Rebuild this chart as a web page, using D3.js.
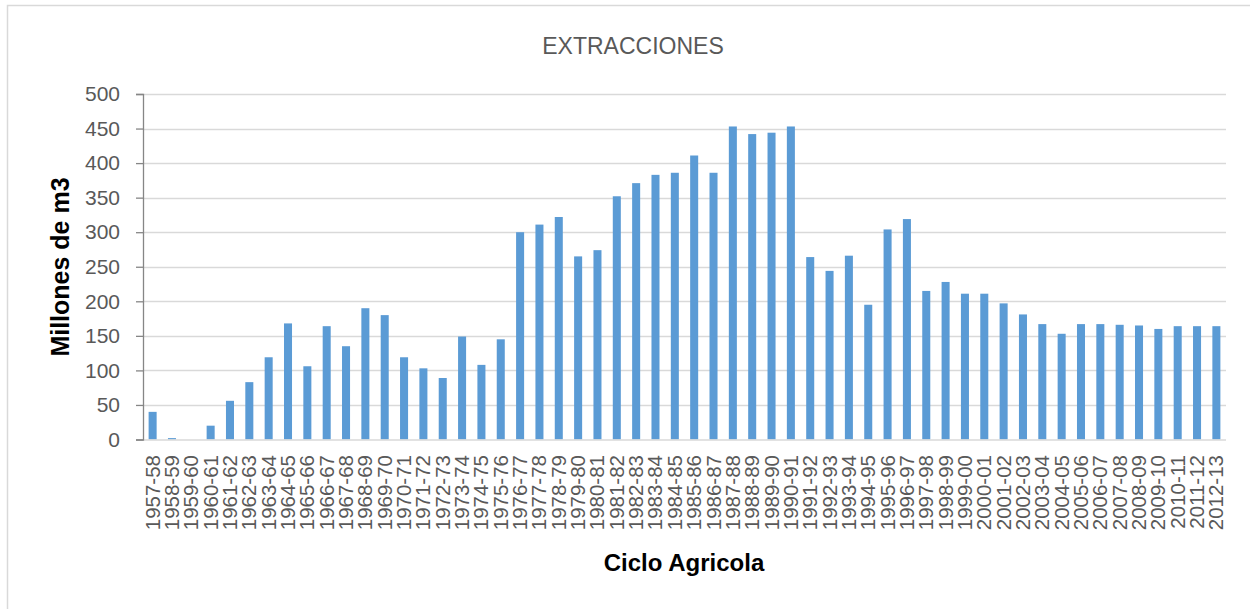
<!DOCTYPE html>
<html>
<head>
<meta charset="utf-8">
<script src="https://cdn.jsdelivr.net/npm/d3@7"></script>
<style>
  html, body { margin: 0; padding: 0; background: #fff; }
  svg { display: block; font-family: 'Liberation Sans', Arial, sans-serif; }
</style>
</head>
<body>
<div id="chart"></div>
<script>
// Extracciones por ciclo agricola (millones de m3)
const ciclos = [
  '1957-58','1958-59','1959-60','1960-61','1961-62','1962-63','1963-64','1964-65',
  '1965-66','1966-67','1967-68','1968-69','1969-70','1970-71','1971-72','1972-73',
  '1973-74','1974-75','1975-76','1976-77','1977-78','1978-79','1979-80','1980-81',
  '1981-82','1982-83','1983-84','1984-85','1985-86','1986-87','1987-88','1988-89',
  '1989-90','1990-91','1991-92','1992-93','1993-94','1994-95','1995-96','1996-97',
  '1997-98','1998-99','1999-00','2000-01','2001-02','2002-03','2003-04','2004-05',
  '2005-06','2006-07','2007-08','2008-09','2009-10','2010-11','2011-12','2012-13'
];
const extracciones = [
  40, 2, 0, 20, 56, 83, 119, 168,
  106, 164, 135, 190, 180, 119, 103, 89,
  149, 108, 145, 300, 311, 322, 265, 274,
  352, 371, 383, 386, 411, 386, 453, 442,
  444, 453, 264, 244, 266, 195, 304, 319,
  215, 228, 211, 211, 197, 181, 167, 153,
  167, 167, 166, 165, 160, 164, 164, 164
];
const yTicks = [0, 50, 100, 150, 200, 250, 300, 350, 400, 450, 500];

const W = 1250, H = 609;
const plot = { left: 143, right: 1226, top: 94, bottom: 439.5 };

const svg = d3.select('#chart').append('svg')
  .attr('width', W).attr('height', H);

// chart frame
svg.append('rect')
  .attr('x', 7.5).attr('y', 5.5).attr('width', 1300).attr('height', 700)
  .attr('fill', '#fff').attr('stroke', '#d9d9d9').attr('stroke-width', 1.5);

const x = d3.scaleBand().domain(ciclos)
  .range([plot.left, plot.right]).paddingInner(0.585).paddingOuter(0.29);
const y = d3.scaleLinear().domain([0, 500]).range([plot.bottom, plot.top]);

// gridlines
svg.append('g').selectAll('line').data(yTicks.filter(d => d > 0)).join('line')
  .attr('x1', plot.left).attr('x2', plot.right)
  .attr('y1', d => Math.round(y(d)) + 0.5).attr('y2', d => Math.round(y(d)) + 0.5)
  .attr('stroke', '#d9d9d9').attr('stroke-width', 1.3);

// bars
svg.append('g').selectAll('rect').data(extracciones).join('rect')
  .attr('x', (d, i) => x(ciclos[i]))
  .attr('width', x.bandwidth())
  .attr('y', d => y(d))
  .attr('height', d => y(0) - y(d))
  .attr('fill', '#5b9bd5');

// x axis line
svg.append('line')
  .attr('x1', plot.left).attr('x2', plot.right)
  .attr('y1', y(0) + 0.5).attr('y2', y(0) + 0.5)
  .attr('stroke', '#d9d9d9').attr('stroke-width', 1.3);

// y axis
const yAxis = svg.append('g')
  .attr('transform', `translate(${plot.left},0)`)
  .call(d3.axisLeft(y).tickValues(yTicks).tickSize(7).tickPadding(16));
yAxis.select('.domain').attr('stroke', '#868686').attr('stroke-width', 1.3);
yAxis.selectAll('.tick line').attr('stroke', '#868686').attr('stroke-width', 1.3);
yAxis.selectAll('.tick text')
  .attr('fill', '#595959').style('font-size', '21px')
  .style('font-family', "'Liberation Sans', Arial, sans-serif");

// x tick labels (rotated)
svg.append('g').selectAll('text').data(ciclos).join('text')
  .attr('transform', d => `translate(${x(d) + x.bandwidth() / 2 + 7},455) rotate(-90)`)
  .attr('text-anchor', 'end')
  .attr('fill', '#595959').style('font-size', '20.5px')
  .text(d => d);

// title
svg.append('text')
  .attr('x', 633).attr('y', 54)
  .attr('text-anchor', 'middle')
  .attr('fill', '#595959').style('font-size', '23px')
  .text('EXTRACCIONES');

// axis titles
svg.append('text')
  .attr('x', 684).attr('y', 571)
  .attr('text-anchor', 'middle')
  .attr('fill', '#000').style('font-size', '24px').style('font-weight', 'bold')
  .text('Ciclo Agricola');

svg.append('text')
  .attr('transform', 'translate(69,267) rotate(-90)')
  .attr('text-anchor', 'middle')
  .attr('fill', '#000').style('font-size', '25px').style('font-weight', 'bold')
  .text('Millones de m3');
</script>
</body>
</html>
